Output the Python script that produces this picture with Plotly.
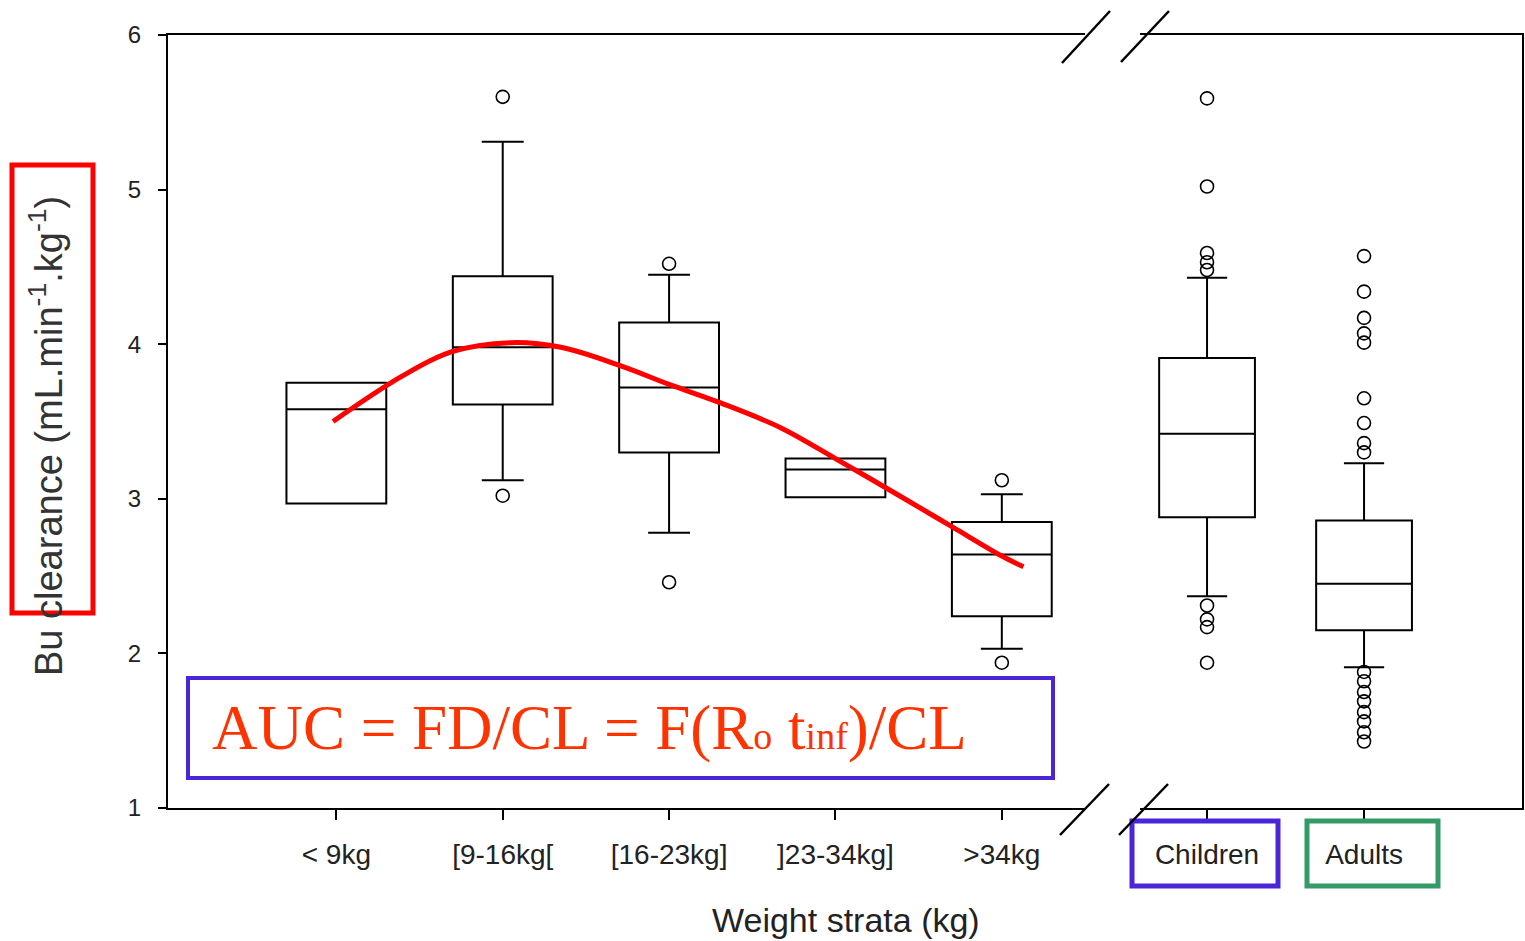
import plotly.graph_objects as go

# ---------------- data ----------------
strata = ["< 9kg", "[9-16kg[", "[16-23kg]", "]23-34kg]", ">34kg"]
strata_q1 = [2.97, 3.61, 3.30, 3.01, 2.24]
strata_median = [3.58, 3.98, 3.72, 3.19, 2.64]
strata_q3 = [3.75, 4.44, 4.14, 3.26, 2.85]
strata_lower = [2.97, 3.12, 2.78, 3.01, 2.03]
strata_upper = [3.75, 5.31, 4.45, 3.26, 3.03]
strata_outliers = [[], [5.60, 3.02], [4.52, 2.46], [], [3.12, 1.94]]

groups = ["Children", "Adults"]
group_q1 = [2.88, 2.15]
group_median = [3.42, 2.45]
group_q3 = [3.91, 2.86]
group_lower = [2.37, 1.91]
group_upper = [4.43, 3.23]
group_outliers = [
    [5.59, 5.02, 4.59, 4.53, 4.48, 2.31, 2.22, 2.17, 1.94],
    [4.57, 4.34, 4.17, 4.07, 4.01, 3.65, 3.49, 3.36, 3.30,
     1.88, 1.82, 1.75, 1.69, 1.62, 1.56, 1.49, 1.43],
]

# fitted trend across weight strata (x in strata index units)
trend_x = [-0.02, 0.39, 0.69, 1.05, 1.35, 1.71, 2.0, 2.31, 2.67, 3.0, 3.40, 3.70, 4.0, 4.13]
trend_y = [3.50, 3.79, 3.95, 4.01, 3.98, 3.86, 3.74, 3.62, 3.46, 3.26, 3.01, 2.82, 2.63, 2.56]

y_ticks = [1, 2, 3, 4, 5, 6]

# ---------------- layout helpers ----------------
W, H = 1525, 941
ML, MR, MT, MB = 168, 3, 35, 133
PW = W - ML - MR
PH = H - MT - MB


def px(x):
    return (x - ML) / PW


def py(y):
    return (H - MB - y) / PH


SANS = "Liberation Sans, Arial, sans-serif"
INK = "#222222"

fig = go.Figure()

for i, name in enumerate(strata):
    fig.add_trace(go.Box(
        x=[i], q1=[strata_q1[i]], median=[strata_median[i]], q3=[strata_q3[i]],
        lowerfence=[strata_lower[i]], upperfence=[strata_upper[i]],
        width=0.6, whiskerwidth=0.42, fillcolor="white",
        line=dict(color="black", width=2), boxpoints=False,
        xaxis="x", yaxis="y", showlegend=False, name=name))
    if strata_outliers[i]:
        fig.add_trace(go.Scatter(
            x=[i] * len(strata_outliers[i]), y=strata_outliers[i], mode="markers",
            marker=dict(symbol="circle-open", size=13, color="black", line=dict(width=1.6)),
            xaxis="x", yaxis="y", showlegend=False))

for j, name in enumerate(groups):
    fig.add_trace(go.Box(
        x=[j], q1=[group_q1[j]], median=[group_median[j]], q3=[group_q3[j]],
        lowerfence=[group_lower[j]], upperfence=[group_upper[j]],
        width=0.61, whiskerwidth=0.42, fillcolor="white",
        line=dict(color="black", width=2), boxpoints=False,
        xaxis="x2", yaxis="y2", showlegend=False, name=name))
    fig.add_trace(go.Scatter(
        x=[j] * len(group_outliers[j]), y=group_outliers[j], mode="markers",
        marker=dict(symbol="circle-open", size=13, color="black", line=dict(width=1.6)),
        xaxis="x2", yaxis="y2", showlegend=False))

fig.add_trace(go.Scatter(
    x=trend_x, y=trend_y, mode="lines",
    line=dict(color="#ff0000", width=5, shape="spline", smoothing=1.0),
    xaxis="x", yaxis="y", showlegend=False))

axis_common = dict(showline=True, linecolor="black", linewidth=2, mirror=True,
                   showgrid=False, zeroline=False, ticks="outside", ticklen=10,
                   tickcolor="black", tickwidth=1.5,
                   tickfont=dict(family=SANS, size=28, color=INK),
                   ticklabelstandoff=10)

shapes = [
    # red box around y title
    dict(type="rect", xref="paper", yref="paper", x0=px(12), x1=px(93), y0=py(613), y1=py(165),
         line=dict(color="#ff0000", width=5)),
    # formula box
    dict(type="rect", xref="paper", yref="paper", x0=px(188), x1=px(1053), y0=py(778), y1=py(678),
         line=dict(color="#4a26d8", width=4)),
    # children label box
    dict(type="rect", xref="paper", yref="paper", x0=px(1132), x1=px(1278), y0=py(886), y1=py(821),
         line=dict(color="#4a26d8", width=5)),
    # adults label box
    dict(type="rect", xref="paper", yref="paper", x0=px(1307), x1=px(1438), y0=py(886), y1=py(821),
         line=dict(color="#349a68", width=5)),
]
# axis break marks
for (xa, ya, xb, yb) in [(1062, 63, 1110, 11), (1121, 62, 1169, 11),
                         (1060, 835, 1109, 784), (1119, 835, 1168, 784)]:
    shapes.append(dict(type="line", xref="paper", yref="paper",
                       x0=px(xa), y0=py(ya), x1=px(xb), y1=py(yb),
                       line=dict(color="black", width=2.5)))

small = "<span style='font-size:38px'>{}</span>"
formula = "AUC = FD/CL = F(R" + small.format("o") + " t" + small.format("inf") + ")/CL"

annotations = [
    dict(text="Bu clearance (mL.min<sup>-1</sup>.kg<sup>-1</sup>)", textangle=-90,
         xref="paper", yref="paper", x=px(46), y=py(436), xanchor="center", yanchor="middle",
         showarrow=False, font=dict(family=SANS, size=38, color="#333333")),
    dict(text="Weight strata (kg)", xref="paper", yref="paper", x=px(846), y=py(920),
         xanchor="center", yanchor="middle", showarrow=False,
         font=dict(family=SANS, size=34, color=INK)),
    dict(text=formula, xref="paper", yref="paper",
         x=px(210), y=py(728), xanchor="left", yanchor="middle", showarrow=False,
         font=dict(family="Liberation Serif, Times New Roman, serif", size=63, color="#ff3300")),
]

fig.update_layout(
    width=W, height=H,
    margin=dict(l=ML, r=MR, t=MT, b=MB),
    paper_bgcolor="white", plot_bgcolor="white",
    xaxis=dict(domain=[0, px(1085)], range=[-1.012, 4.5],
               tickvals=list(range(len(strata))), ticktext=strata, anchor="y", **axis_common),
    xaxis2=dict(domain=[px(1140), 1], range=[-0.427, 2.006],
                tickvals=list(range(len(groups))), ticktext=groups, anchor="y2", **axis_common),
    yaxis=dict(domain=[0, 1], range=[1, 6], tickvals=y_ticks, anchor="x",
               showline=True, linecolor="black", linewidth=2, mirror=False,
               showgrid=False, zeroline=False, ticks="outside", ticklen=8,
               tickcolor="black", tickwidth=1.5, ticklabelstandoff=12,
               tickfont=dict(family=SANS, size=24, color=INK)),
    yaxis2=dict(domain=[0, 1], range=[1, 6], matches="y", anchor="x2", side="right",
                showline=True, linecolor="black", linewidth=2, mirror=False,
                showgrid=False, zeroline=False, ticks="", showticklabels=False),
    shapes=shapes,
    annotations=annotations,
)

fig.write_html(
    "out.html",
    config={"displayModeBar": False},
    post_script="document.body.style.margin='0';document.body.style.overflow='hidden';",
)
